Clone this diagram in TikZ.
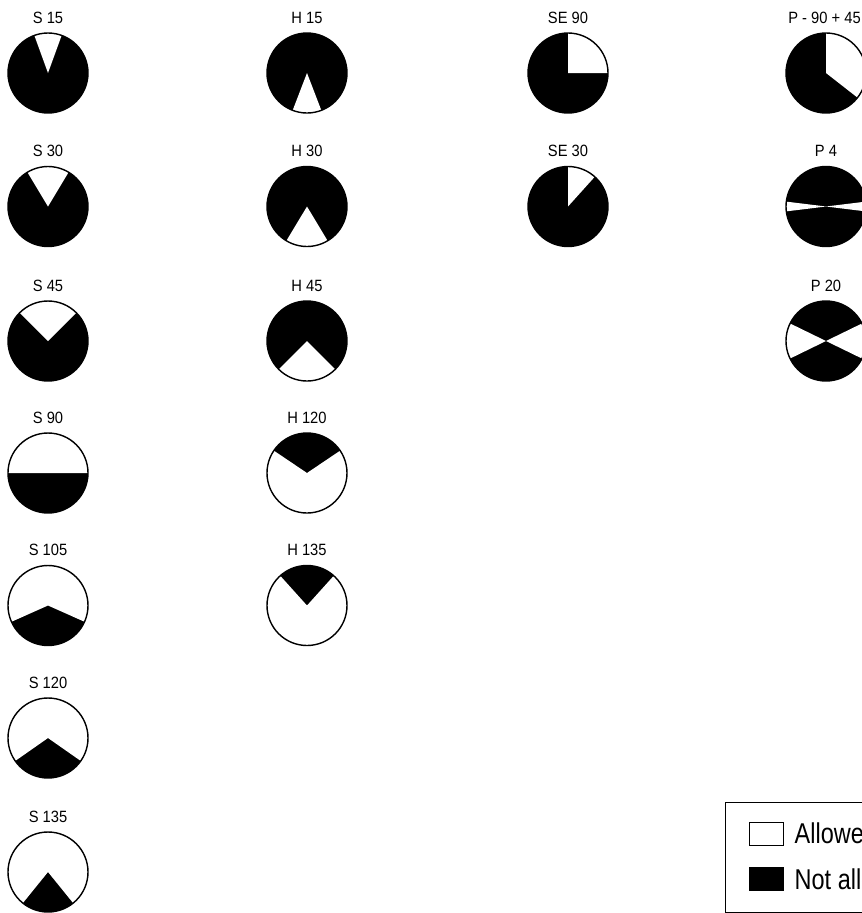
\documentclass[tikz,border=0pt]{standalone}
\usepackage{fontspec}
\setmainfont{Liberation Sans}[FakeStretch=0.9]
\newfontfamily\keyfont{Liberation Sans}[FakeStretch=0.82]
\usepackage{tikz}
\usetikzlibrary{positioning}

\begin{document}
\begin{tikzpicture}[rim/.style={line width=0.8pt},
  tag/.style={font=\fontsize{9.3}{11}\selectfont, inner sep=0pt},
  swatch/.style={draw, line width=0.4pt, minimum width=0.68cm, minimum height=0.46cm, inner sep=0pt},
  keytext/.style={font=\keyfont\fontsize{16.3}{19}\selectfont, inner sep=0pt}]
\useasboundingbox (0,0) rectangle (17.22,-18.26);
\fill (0.96,-1.46) coordinate (s15) circle (0.8) ++(0,1.11) node[tag] (s15-tag) {S 15};
\fill[white] (s15) -- ++(70:0.8) arc (70:110:0.8) -- cycle;
\draw[rim] (s15) circle (0.8);
\fill (0.96,-4.13) coordinate (s30) circle (0.8) ++(0,1.11) node[tag] (s30-tag) {S 30};
\fill[white] (s30) -- ++(59:0.8) arc (59:121:0.8) -- cycle;
\draw[rim] (s30) circle (0.8);
\fill (0.96,-6.82) coordinate (s45) circle (0.8) ++(0,1.11) node[tag] (s45-tag) {S 45};
\fill[white] (s45) -- ++(45:0.8) arc (45:135:0.8) -- cycle;
\draw[rim] (s45) circle (0.8);
\fill (0.96,-9.46) coordinate (s90) circle (0.8) ++(0,1.11) node[tag] (s90-tag) {S 90};
\fill[white] (s90) -- ++(0:0.8) arc (0:180:0.8) -- cycle;
\draw[rim] (s90) circle (0.8);
\fill (0.96,-12.11) coordinate (s105) circle (0.8) ++(0,1.11) node[tag] (s105-tag) {S 105};
\fill[white] (s105) -- ++(-24:0.8) arc (-24:204:0.8) -- cycle;
\draw[rim] (s105) circle (0.8);
\fill (0.96,-14.76) coordinate (s120) circle (0.8) ++(0,1.11) node[tag] (s120-tag) {S 120};
\fill[white] (s120) -- ++(-35:0.8) arc (-35:215:0.8) -- cycle;
\draw[rim] (s120) circle (0.8);
\fill (0.96,-17.44) coordinate (s135) circle (0.8) ++(0,1.11) node[tag] (s135-tag) {S 135};
\fill[white] (s135) -- ++(-51:0.8) arc (-51:231:0.8) -- cycle;
\draw[rim] (s135) circle (0.8);
\fill (6.14,-1.46) coordinate (h15) circle (0.8) ++(0,1.11) node[tag] (h15-tag) {H 15};
\fill[white] (h15) -- ++(249:0.8) arc (249:291:0.8) -- cycle;
\draw[rim] (h15) circle (0.8);
\fill (6.14,-4.13) coordinate (h30) circle (0.8) ++(0,1.11) node[tag] (h30-tag) {H 30};
\fill[white] (h30) -- ++(239:0.8) arc (239:301:0.8) -- cycle;
\draw[rim] (h30) circle (0.8);
\fill (6.14,-6.82) coordinate (h45) circle (0.8) ++(0,1.11) node[tag] (h45-tag) {H 45};
\fill[white] (h45) -- ++(225:0.8) arc (225:315:0.8) -- cycle;
\draw[rim] (h45) circle (0.8);
\fill (6.14,-9.46) coordinate (h120) circle (0.8) ++(0,1.11) node[tag] (h120-tag) {H 120};
\fill[white] (h120) -- ++(146:0.8) arc (146:394:0.8) -- cycle;
\draw[rim] (h120) circle (0.8);
\fill (6.14,-12.11) coordinate (h135) circle (0.8) ++(0,1.11) node[tag] (h135-tag) {H 135};
\fill[white] (h135) -- ++(132:0.8) arc (132:408:0.8) -- cycle;
\draw[rim] (h135) circle (0.8);
\fill (11.36,-1.46) coordinate (se90) circle (0.8) ++(0,1.11) node[tag] (se90-tag) {SE 90};
\fill[white] (se90) -- ++(0:0.8) arc (0:90:0.8) -- cycle;
\draw[rim] (se90) circle (0.8);
\fill (11.36,-4.13) coordinate (se30) circle (0.8) ++(0,1.11) node[tag] (se30-tag) {SE 30};
\fill[white] (se30) -- ++(48:0.8) arc (48:90:0.8) -- cycle;
\draw[rim] (se30) circle (0.8);
\fill (16.52,-1.46) coordinate (p90) circle (0.8) ++(-0.76,1.11) node[tag, anchor=west] (p90-tag) {P - 90 + 45};
\fill[white] (p90) -- ++(-38:0.8) arc (-38:90:0.8) -- cycle;
\draw[rim] (p90) circle (0.8);
\fill (16.52,-4.13) coordinate (p4) circle (0.8) ++(0,1.11) node[tag] (p4-tag) {P 4};
\fill[white] (p4) -- ++(-7:0.8) arc (-7:7:0.8) -- cycle (p4) -- ++(173:0.8) arc (173:187:0.8) -- cycle;
\draw[rim] (p4) circle (0.8);
\fill (16.52,-6.82) coordinate (p20) circle (0.8) ++(0,1.11) node[tag] (p20-tag) {P 20};
\fill[white] (p20) -- ++(-26:0.8) arc (-26:26:0.8) -- cycle (p20) -- ++(154:0.8) arc (154:206:0.8) -- cycle;
\draw[rim] (p20) circle (0.8);
\draw[line width=0.5pt] (14.5,-16.04) rectangle (18,-18.24);
\node[swatch] (allowed-box) at (15.32,-16.67) {};
\node[swatch, fill] (banned-box) at (15.32,-17.58) {};
\node[keytext, right=0.22cm of allowed-box] (allowed) {Allowed};
\node[keytext, right=0.22cm of banned-box] (banned) {Not allowed};
\end{tikzpicture}
\end{document}
